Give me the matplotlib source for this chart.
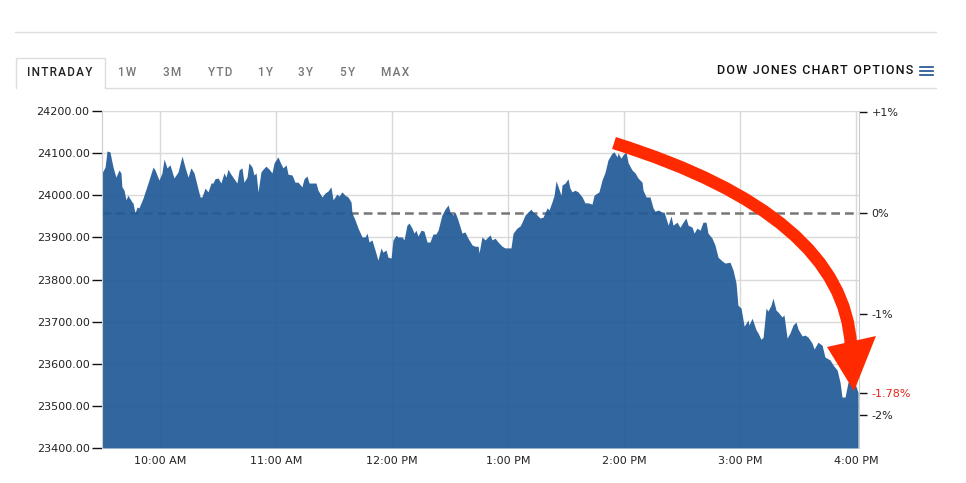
import matplotlib
matplotlib.use("Agg")
import matplotlib.pyplot as plt
from matplotlib.lines import Line2D
from matplotlib.patches import PathPatch, Polygon
from matplotlib.path import Path

# previous close (0% line) and last change
prev_close = 23958
last_pct = -1.78

# minutes since 9:30 open, and index level
minutes = [0, 1.6, 2.6, 4.1, 5.7, 7.2, 8.8, 9.8, 10.3, 11.4, 12.4, 13.4, 15.5, 16.0, 17.1, 18.1, 19.1, 21.2, 23.8, 26.4,
           27.4, 29.5, 31.0, 32.1, 33.6, 35.2, 37.2, 39.3, 41.4, 42.9, 44.5, 46.0, 47.6, 50.7, 51.7, 53.3, 54.8, 56.4, 57.4, 58.4,
           60.0, 61.5, 63.1, 64.1, 65.2,
           66.2, 69.8, 70.9, 72.4, 73.4, 75.0, 76.0, 77.6, 78.6, 79.7, 80.7, 82.2, 83.3, 84.8, 86.4, 87.9, 89.0, 91.0, 92.1, 93.6,
           95.2, 96.2, 98.3, 99.8, 101.4, 103.4, 104.5, 106.0, 107.1, 108.6, 110.7, 111.7, 113.8, 115.3, 116.9, 118.4, 119.5, 121.5, 122.6, 124.1,
           125.7, 127.2, 128.8,
           129.3, 130.9, 132.4, 134.5, 136.0, 137.1, 138.1, 139.6, 141.2, 142.7, 144.3, 145.3, 146.9, 147.9, 149.5, 150.5, 152.1, 153.1, 155.2, 156.2,
           157.7, 158.8, 160.3, 161.4, 162.4, 163.4, 165.0, 166.5, 168.1, 169.6, 171.2, 172.7, 173.8, 175.8, 177.4, 179.0, 180.0, 181.5, 182.6, 184.1,
           186.2, 187.7, 189.3, 191.4, 192.9,
           194.5, 195.0, 196.5, 198.1, 199.6, 200.7, 201.7, 203.3, 204.8, 206.9, 208.4, 210.0, 211.5, 212.6, 214.6, 216.2, 217.2, 218.8, 220.3, 221.9,
           222.9, 225.0, 226.5, 228.1, 230.2, 231.2, 232.7, 233.8, 234.8, 235.9, 237.4, 237.9, 239.5, 241.0, 242.0, 243.1, 244.6, 246.2, 248.3, 249.8,
           251.4, 253.4, 254.5, 256.0, 257.0,
           258.6, 260.2, 261.7, 263.8, 264.8, 266.4, 266.9, 268.4, 269.5, 271.0, 272.1, 274.1, 275.7, 277.2, 279.3, 279.8, 281.4, 283.4, 285.0, 286.0,
           287.6, 289.7, 290.7, 292.8, 294.3, 295.3, 297.4, 298.9, 300.5, 302.0, 303.1, 305.2, 306.2, 307.7, 309.3, 310.8, 312.4, 313.4, 315.5, 317.0,
           318.6, 320.7, 322.2,
           324.8, 326.4, 327.9, 328.9, 330.5, 332.1, 334.1, 334.6, 336.2, 338.3, 339.3, 340.8, 341.9, 343.4, 344.4, 346.0, 347.0, 348.6, 349.6, 351.7,
           352.7, 354.3, 355.8, 357.4, 358.9, 360.0, 362.1, 363.6, 365.2, 367.2, 368.3, 370.3, 372.4, 373.9, 376.5, 378.1, 380.2, 381.7, 382.7, 384.3,
           385.8, 387.9, 388.9, 390.0, 391.0]
prices = [24053, 24067, 24105, 24103, 24067, 24043, 24060, 24053, 24020, 24012, 23989, 24000, 23984, 23982, 23958, 23972, 23970, 23993, 24029, 24067,
          24060, 24036, 24053, 24086, 24065, 24072, 24041, 24055, 24093, 24067, 24043, 24065, 24053, 23996, 23996, 24017, 24008, 24029, 24029, 24039,
          24041, 24029, 24053, 24043, 24062,
          24053, 24029, 24060, 24065, 24031, 24043, 24077, 24067, 24048, 24053, 24008, 24055, 24062, 24069, 24062, 24053, 24077, 24091, 24079, 24065,
          24072, 24050, 24048, 24031, 24031, 24020, 24039, 24046, 24029, 24029, 24029, 24012, 23996, 24005, 24010, 24020, 23989, 24003, 23998, 24008,
          24000, 23996, 23984,
          23958, 23941, 23922, 23901, 23901, 23910, 23889, 23894, 23870, 23846, 23875, 23865, 23870, 23853, 23851, 23894, 23905, 23901, 23901, 23894,
          23929, 23934, 23922, 23910, 23917, 23903, 23917, 23915, 23889, 23889, 23908, 23908, 23917, 23953, 23967, 23977, 23960, 23953, 23960, 23941,
          23910, 23913, 23898, 23882, 23879,
          23879, 23863, 23901, 23894, 23901, 23906, 23894, 23898, 23889, 23879, 23875, 23875, 23875, 23910, 23922, 23927, 23936, 23953, 23960, 23967,
          23960, 23953, 23946, 23948, 23970, 23965, 23984, 24000, 24034, 24020, 24000, 24024, 24029, 24039, 24017, 24008, 24012, 24008, 23996, 23982,
          23982, 23979, 24000, 24005, 24008,
          24036, 24055, 24084, 24100, 24103, 24091, 24100, 24088, 24096, 24103, 24077, 24060, 24053, 24041, 24031, 24012, 23996, 23996, 23970, 23962,
          23965, 23960, 23960, 23929, 23951, 23929, 23936, 23924, 23936, 23946, 23929, 23924, 23910, 23922, 23917, 23936, 23936, 23910, 23898, 23882,
          23853, 23844, 23839,
          23841, 23822, 23792, 23739, 23732, 23689, 23704, 23692, 23708, 23680, 23673, 23658, 23663, 23732, 23725, 23739, 23756, 23727, 23723, 23711,
          23716, 23661, 23673, 23692, 23699, 23682, 23666, 23668, 23663, 23649, 23635, 23651, 23644, 23616, 23609, 23597, 23585, 23556, 23521, 23521,
          23556, 23566, 23554, 23545, 23532]

hour_ticks = [30, 90, 150, 210, 270, 330, 390]
hour_labels = ["10:00 AM", "11:00 AM", "12:00 PM", "1:00 PM", "2:00 PM", "3:00 PM", "4:00 PM"]
price_ticks = [23400, 23500, 23600, 23700, 23800, 23900, 24000, 24100, 24200]
pct_ticks = [1, 0, -1, last_pct, -2]
pct_labels = ["+1%", "0%", "-1%", "-1.78%", "-2%"]
tabs = ["INTRADAY", "1W", "3M", "YTD", "1Y", "3Y", "5Y", "MAX"]
tab_x = [60, 127, 172, 220, 265, 306, 348, 395]

W, H = 966, 483
fig = plt.figure(figsize=(W / 100, H / 100), dpi=100)


def fx(px):
    return px / W


def fy(py):
    return 1 - py / H


def fxy(p):
    return (fx(p[0]), fy(p[1]))


def spaced(s):
    # poor man's letter spacing
    return "\u200a".join(s)


ax = fig.add_axes([fx(102), fy(448), fx(859) - fx(102), fy(111) - fy(448)])
ax.set_xlim(0, 391.5)
ax.set_ylim(23400, 24200)

ax.set_axisbelow(True)
ax.grid(True, color="#d9d9d9", lw=1)
ax.axhline(prev_close, color="#777777", lw=1.8, ls=(0, (3.5, 2)), zorder=1)
ax.fill_between(minutes, prices, 23400, color="#1f5a96", alpha=0.92, lw=0, zorder=2)

ax.set_yticks(price_ticks)
ax.set_yticklabels([f"{v:.2f}" for v in price_ticks])
ax.set_xticks(hour_ticks)
ax.set_xticklabels(hour_labels)
ax.tick_params(axis="y", length=7, width=1, color="#111111", labelsize=8, pad=2, labelcolor="#222222")
ax.tick_params(axis="x", length=0, labelsize=8, pad=6, labelcolor="#222222")
for s in ["top", "right", "bottom"]:
    ax.spines[s].set_visible(False)
ax.spines["left"].set_color("#cccccc")

ax2 = ax.twinx()
ax2.set_ylim((23400 / prev_close - 1) * 100, (24200 / prev_close - 1) * 100)
ax2.set_yticks(pct_ticks)
ax2.set_yticklabels(pct_labels)
ax2.tick_params(axis="y", length=6, width=1, color="#111111", labelsize=8, pad=3, labelcolor="#222222")
for s in ["top", "left", "bottom"]:
    ax2.spines[s].set_visible(False)
ax2.spines["right"].set_color("#cccccc")
for lab in ax2.get_yticklabels():
    if lab.get_text() == "-1.78%":
        lab.set_color("#e8231b")

# red annotation arrow: curved shaft + triangular head (figure pixels)
red = "#ff2a00"
shaft = Path([fxy((614, 143)), fxy((844, 215)), fxy((851, 346))],
             [Path.MOVETO, Path.CURVE3, Path.CURVE3])
fig.add_artist(PathPatch(shaft, transform=fig.transFigure, fill=False, edgecolor=red,
                         lw=9, capstyle="butt", zorder=6))
fig.add_artist(Polygon([fxy((827, 347)), fxy((876, 336)), fxy((854, 391))], closed=True,
                       transform=fig.transFigure, facecolor=red, edgecolor="none", zorder=7))

# header
line_kw = dict(transform=fig.transFigure, color="#dddddd", lw=1)
fig.add_artist(Line2D([fx(15), fx(936)], [fy(32), fy(32)], **line_kw))
fig.add_artist(Line2D([fx(16), fx(16), fx(105), fx(105)], [fy(88), fy(58), fy(58), fy(88)], **line_kw))
fig.add_artist(Line2D([fx(105), fx(936)], [fy(88), fy(88)], **line_kw))

fonts = ["Roboto", "DejaVu Sans"]
for name, x in zip(tabs, tab_x):
    col = "#222222" if name == "INTRADAY" else "#777777"
    fig.text(fx(x), fy(72), spaced(name), ha="center", va="center", fontsize=8.5, family=fonts,
             weight="medium", color=col)

fig.text(fx(913), fy(71), spaced("DOW JONES CHART OPTIONS"), ha="right", va="center", fontsize=9,
         family=fonts, weight="medium", color="#111111")
for yy in [67, 71, 75]:
    fig.add_artist(Line2D([fx(920), fx(933)], [fy(yy), fy(yy)], transform=fig.transFigure,
                          color="#1a4f8f", lw=1.2))

fig.savefig("out.png", dpi=100)
